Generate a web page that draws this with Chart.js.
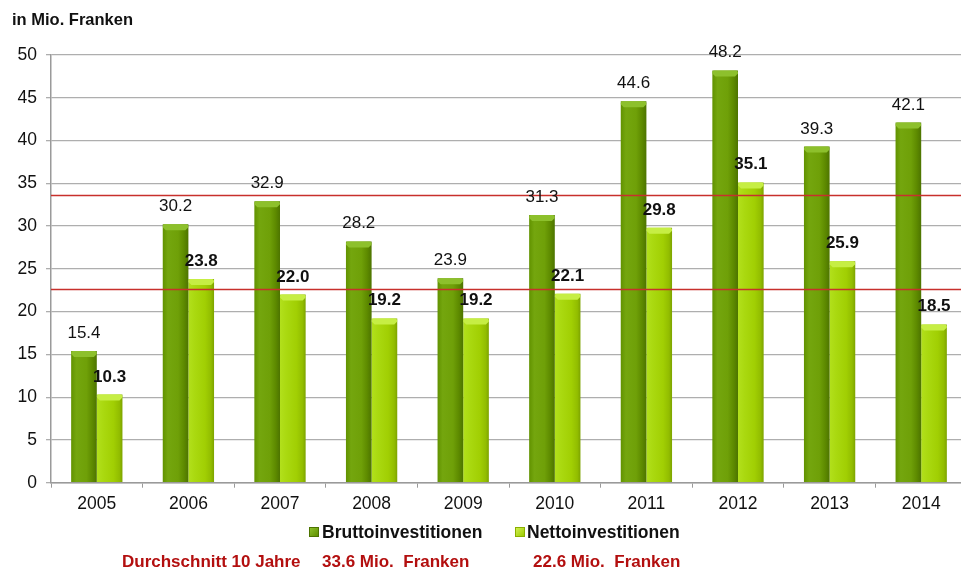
<!DOCTYPE html>
<html>
<head>
<meta charset="utf-8">
<script src="https://cdn.jsdelivr.net/npm/chart.js@4.4.1/dist/chart.umd.min.js"></script>
<style>
  html, body { margin: 0; padding: 0; background: #fff; overflow: hidden; width: 961px; height: 572px; }
  #wrap { position: relative; width: 961px; height: 572px; overflow: hidden; }
  #c { position: absolute; left: 0; top: 0; }
  .txt { position: absolute; font-family: "Liberation Sans", Arial, sans-serif; white-space: pre; line-height: 1; }
  #title { left: 12px; top: 11px; font-size: 16.5px; font-weight: bold; color: #111; }
  .lg-box { position: absolute; width: 10px; height: 10px; box-sizing: border-box; }
  .lg-text { font-size: 17.5px; font-weight: bold; color: #111; }
  .avg { font-size: 17px; font-weight: bold; color: #b30f0f; }
</style>
</head>
<body>
<div id="wrap">
  <canvas id="c" width="967" height="572"></canvas>
  <div id="title" class="txt">in Mio. Franken</div>
  <div id="legend"></div>
  <div id="avgline"></div>
</div>
<script>
// ---- data ----
const categories = ['2005', '2006', '2007', '2008', '2009', '2010', '2011', '2012', '2013', '2014'];
const brutto = [15.4, 30.2, 32.9, 28.2, 23.9, 31.3, 44.6, 48.2, 39.3, 42.1];
const netto  = [10.3, 23.8, 22.0, 19.2, 19.2, 22.1, 29.8, 35.1, 25.9, 18.5];
const seriesNames = ['Bruttoinvestitionen', 'Nettoinvestitionen'];
const averages = [33.6, 22.6];
const avgCaption = 'Durchschnitt 10 Jahre';
const yMin = 0, yMax = 50, yStep = 5;

// ---- styles ----
const CAT_PCT = 0.56;
const stops = [
  [[0, '#619200'], [0.2, '#74a60e'], [0.6, '#6fa008'], [0.82, '#5e8b00'], [1, '#4d7400']],
  [[0, '#b2e01c'], [0.25, '#aad910'], [0.65, '#a1cf03'], [0.88, '#92bd00'], [1, '#7da300']]
];
const flat = ['#6a9a06', '#a4d30a'];
const capCol = ['#8dc02c', '#c6ee44'];
const labelFont = ['normal 17px "Liberation Sans", Arial, sans-serif', 'bold 17px "Liberation Sans", Arial, sans-serif'];

function barFill(ctx) {
  const chart = ctx.chart;
  const xs = chart.scales && chart.scales.x;
  if (ctx.type !== 'data' || !xs || !xs.width) return flat[ctx.datasetIndex];
  const cx = xs.getPixelForValue(ctx.dataIndex);
  const bw = xs.width / categories.length * CAT_PCT / 2;
  const x0 = ctx.datasetIndex === 0 ? cx - bw : cx;
  const g = chart.ctx.createLinearGradient(x0, 0, x0 + bw, 0);
  stops[ctx.datasetIndex].forEach(s => g.addColorStop(s[0], s[1]));
  return g;
}

const overlay = {
  id: 'overlay',
  afterDatasetsDraw(chart) {
    const c = chart.ctx;
    const area = chart.chartArea;
    const ys = chart.scales.y;
    // bar caps
    chart.data.datasets.forEach((ds, di) => {
      chart.getDatasetMeta(di).data.forEach(bar => {
        const w = bar.width, x = bar.x - w / 2, y = bar.y;
        c.save();
        c.fillStyle = capCol[di];
        c.beginPath();
        c.moveTo(x + 2, y);
        c.lineTo(x + w - 2, y);
        c.quadraticCurveTo(x + w, y, x + w, y + 3);
        c.lineTo(x + w - 3, y + 6);
        c.lineTo(x + 3, y + 6);
        c.lineTo(x, y + 3);
        c.quadraticCurveTo(x, y, x + 2, y);
        c.fill();
        c.restore();
      });
    });
    // average lines
    c.save();
    c.strokeStyle = '#c8302c';
    c.lineWidth = 1.5;
    averages.forEach(v => {
      const py = Math.round(ys.getPixelForValue(v)) + 0.5;
      c.beginPath();
      c.moveTo(area.left, py);
      c.lineTo(area.right, py);
      c.stroke();
    });
    c.restore();
    // value labels
    chart.data.datasets.forEach((ds, di) => {
      chart.getDatasetMeta(di).data.forEach((bar, i) => {
        c.save();
        c.font = labelFont[di];
        c.fillStyle = '#111';
        c.textAlign = 'center';
        c.textBaseline = 'alphabetic';
        c.fillText(ds.data[i].toFixed(1), bar.x, bar.y - 13);
        c.restore();
      });
    });
  }
};

const chart = new Chart(document.getElementById('c'), {
  type: 'bar',
  data: {
    labels: categories,
    datasets: [
      { label: seriesNames[0], data: brutto, backgroundColor: barFill, borderWidth: 0 },
      { label: seriesNames[1], data: netto, backgroundColor: barFill, borderWidth: 0 }
    ]
  },
  options: {
    responsive: false,
    animation: false,
    devicePixelRatio: 1,
    layout: { padding: { left: 0, right: 0, top: 55, bottom: 49.3 } },
    datasets: { bar: { categoryPercentage: CAT_PCT, barPercentage: 1.0 } },
    plugins: { legend: { display: false }, tooltip: { enabled: false } },
    scales: {
      x: {
        afterFit(s) { s.height = 40; },
        grid: { display: true, drawOnChartArea: false, drawTicks: true, tickLength: 5, color: '#9a9a9a', lineWidth: 1 },
        border: { display: true, color: '#9a9a9a', width: 1.5 },
        ticks: { color: '#111', font: { family: '"Liberation Sans", Arial, sans-serif', size: 17.5 }, padding: 6, maxRotation: 0 }
      },
      y: {
        min: yMin, max: yMax,
        afterFit(s) { s.width = 51; },
        grid: { color: '#aeaeae', lineWidth: 1.3, tickLength: 5, drawTicks: true },
        border: { display: true, color: '#9a9a9a', width: 1.5 },
        ticks: { stepSize: yStep, color: '#111', font: { family: '"Liberation Sans", Arial, sans-serif', size: 17.5 }, padding: 9 }
      }
    }
  },
  plugins: [overlay]
});

// ---- HTML legend and average caption ----
const legend = document.getElementById('legend');
const lgPos = [[309, 322], [515, 527]];
const lgFill = [
  'linear-gradient(135deg, #8cc02a, #5f8f00)',
  'linear-gradient(135deg, #d0f050, #9ccb02)'
];
seriesNames.forEach((name, i) => {
  const b = document.createElement('div');
  b.className = 'lg-box';
  b.style.left = lgPos[i][0] + 'px';
  b.style.top = '527px';
  b.style.background = lgFill[i];
  b.style.border = '1px solid ' + (i === 0 ? '#4d7400' : '#8aae00');
  legend.appendChild(b);
  const t = document.createElement('div');
  t.className = 'txt lg-text';
  t.style.left = lgPos[i][1] + 'px';
  t.style.top = '524px';
  t.textContent = name;
  legend.appendChild(t);
});
const avgline = document.getElementById('avgline');
const avgPos = [322, 533];
const cap = document.createElement('div');
cap.className = 'txt avg';
cap.style.left = '122px';
cap.style.top = '553px';
cap.textContent = avgCaption;
avgline.appendChild(cap);
averages.forEach((v, i) => {
  const d = document.createElement('div');
  d.className = 'txt avg';
  d.style.left = avgPos[i] + 'px';
  d.style.top = '553px';
  d.textContent = v.toFixed(1) + ' Mio.  Franken';
  avgline.appendChild(d);
});
</script>
</body>
</html>
